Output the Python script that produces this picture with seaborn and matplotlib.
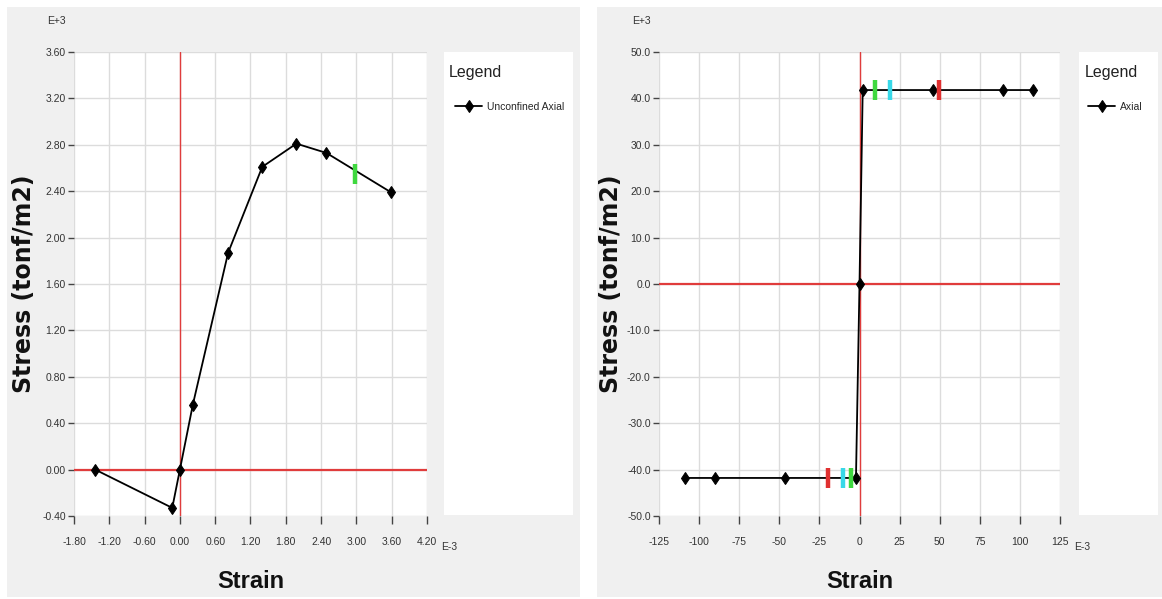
import numpy as np
import pandas as pd
import matplotlib
matplotlib.use("Agg")
import matplotlib.pyplot as plt
import seaborn as sns
from matplotlib.patches import Rectangle

# ---------------- data ----------------
# Left chart (strain in E-3, stress in E+3 tonf/m2)
left_strain = [-1.44, -0.13, 0.00, 0.22, 0.82, 1.40, 1.98, 2.49, 3.59]
left_stress = [0.00, -0.33, 0.00, 0.56, 1.87, 2.61, 2.81, 2.73, 2.39]
left_hinge_strain = [2.98]
left_hinge_stress = [2.55]
left_hinge_colors = ["#3fd83f"]
left_series = "Unconfined Axial"
left_xticks = [-1.80, -1.20, -0.60, 0.00, 0.60, 1.20, 1.80, 2.40, 3.00, 3.60, 4.20]
left_yticks = [-0.40, 0.00, 0.40, 0.80, 1.20, 1.60, 2.00, 2.40, 2.80, 3.20, 3.60]

# Right chart (strain in E-3, stress in E+3 tonf/m2)
right_strain = [-108.5, -90.0, -46.5, -2.2, 0.0, 2.0, 45.6, 89.5, 108.2]
right_stress = [-41.8, -41.8, -41.8, -41.8, 0.0, 41.8, 41.8, 41.8, 41.8]
right_hinge_strain = [-19.6, -10.3, -5.3, 9.7, 19.0, 49.6]
right_hinge_stress = [-41.8, -41.8, -41.8, 41.8, 41.8, 41.8]
right_hinge_colors = ["#e03030", "#38d8e8", "#3fd83f", "#3fd83f", "#38d8e8", "#e03030"]
right_series = "Axial"
right_xticks = [-125, -100, -75, -50, -25, 0, 25, 50, 75, 100, 125]
right_yticks = [-50.0, -40.0, -30.0, -20.0, -10.0, 0.0, 10.0, 20.0, 30.0, 40.0, 50.0]

# ---------------- style ----------------
sns.set_theme(style="white")
NARROW = ["Liberation Sans Narrow", "Liberation Sans", "DejaVu Sans"]
plt.rcParams["font.family"] = NARROW

W, H = 1162, 599
fig = plt.figure(figsize=(W / 100, H / 100), dpi=100, facecolor="white")

def fx(px):
    return px / W

def fy(py):
    return 1 - py / H

# gray panels
fig.patches.append(Rectangle((fx(7), fy(597)), fx(573), 590 / H, transform=fig.transFigure,
                             facecolor="#f0f0f0", edgecolor="none", zorder=-3))
fig.patches.append(Rectangle((fx(597), fy(597)), fx(565), 590 / H, transform=fig.transFigure,
                             facecolor="#f0f0f0", edgecolor="none", zorder=-3))
# legend boxes
fig.patches.append(Rectangle((fx(444), fy(515)), fx(129), 463 / H, transform=fig.transFigure,
                             facecolor="white", edgecolor="none", zorder=-2))
fig.patches.append(Rectangle((fx(1079), fy(515)), fx(79), 463 / H, transform=fig.transFigure,
                             facecolor="white", edgecolor="none", zorder=-2))


def draw_panel(rect_px, strain, stress, hs, hst, hcols, series, xticks, yticks,
               xfmt, yfmt, ylabel_x_px, leg_title_px, leg_entry_px):
    x0, y_top, w, h = rect_px
    ax = fig.add_axes([fx(x0), fy(y_top + h), fx(w), h / H], zorder=1)
    ax.set_facecolor("white")
    df = pd.DataFrame({"Strain": strain, "Stress": stress, "series": series})
    ax.grid(True, color="#dcdcdc", linewidth=1.0, zorder=0)
    ax.set_axisbelow(True)
    for s in ax.spines.values():
        s.set_visible(False)
    ax.axvline(0, color="#e03c3c", linewidth=1.0, zorder=1)
    ax.axhline(0, color="#e03c3c", linewidth=1.6, zorder=1)
    sns.lineplot(data=df, x="Strain", y="Stress", hue="series", palette=["black"],
                 sort=False, estimator=None, marker="d", markersize=6.5,
                 markeredgecolor="black", linewidth=1.3, ax=ax, zorder=3)
    for x, y, c in zip(hs, hst, hcols):
        ax.plot([x], [y], marker="|", markersize=14, markeredgewidth=3.2,
                color=c, linestyle="none", zorder=4)
    handles, labels = ax.get_legend_handles_labels()
    if ax.get_legend() is not None:
        ax.get_legend().remove()
    ax.set_xlim(xticks[0], xticks[-1])
    ax.set_ylim(yticks[0], yticks[-1])
    ax.set_xticks(xticks)
    ax.set_yticks(yticks)
    ax.set_xticklabels([xfmt.format(v) for v in xticks])
    ax.set_yticklabels([yfmt.format(v) for v in yticks])
    ax.tick_params(axis="y", length=4, width=1, color="#444444", pad=2,
                   labelsize=7.5, labelcolor="#333333", left=True)
    ax.tick_params(axis="x", length=6, width=1, color="#444444", pad=9,
                   labelsize=7.5, labelcolor="#333333", bottom=True)
    ax.set_xlabel("Strain", fontsize=17, fontweight="bold", family=NARROW,
                  labelpad=17, color="#111111")
    ax.set_ylabel("Stress (tonf/m2)", fontsize=17, fontweight="bold",
                  family=["DejaVu Sans"], color="#111111")
    ax.yaxis.set_label_coords((ylabel_x_px - x0) / w, 0.5)
    # multiplier labels
    ax.annotate("E-3", xy=(1.0, 0.0), xycoords="axes fraction", xytext=(10, -22),
                textcoords="offset points", fontsize=7.5, color="#333333",
                ha="left", va="center", annotation_clip=False)
    ax.annotate("E+3", xy=(0.0, 1.0), xycoords="axes fraction", xytext=(-13, 22),
                textcoords="offset points", fontsize=7.5, color="#333333",
                ha="center", va="center", annotation_clip=False)
    # legend
    fig.text(fx(leg_title_px[0]), fy(leg_title_px[1]), "Legend", fontsize=11.5,
             color="#222222", ha="left", va="center", zorder=5)
    fig.legend(handles, [series], loc="center left",
               bbox_to_anchor=(fx(leg_entry_px[0]), fy(leg_entry_px[1])),
               bbox_transform=fig.transFigure, frameon=False, borderpad=0,
               borderaxespad=0, handlelength=2.6, handletextpad=0.5,
               markerscale=1.0, prop={"family": NARROW, "size": 7.5})
    return ax


draw_panel((74, 52, 353, 464), left_strain, left_stress,
           left_hinge_strain, left_hinge_stress, left_hinge_colors, left_series,
           left_xticks, left_yticks, "{:.2f}", "{:.2f}", 36, (449, 72), (455, 107))

draw_panel((659, 52, 401, 464), right_strain, right_stress,
           right_hinge_strain, right_hinge_stress, right_hinge_colors, right_series,
           right_xticks, right_yticks, "{:.0f}", "{:.1f}", 623, (1085, 72), (1088, 107))

fig.savefig("out.png", dpi=100, facecolor="white")
